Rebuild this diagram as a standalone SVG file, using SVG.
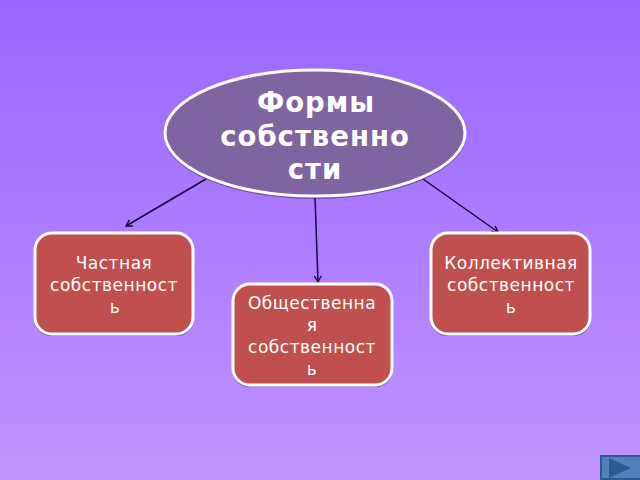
<svg xmlns="http://www.w3.org/2000/svg" width="640" height="480" viewBox="0 0 640 480">
<style>
.box{fill:#c0504d;stroke:#fff;stroke-width:3}
.shadow{fill:#4a3a70;opacity:.6}
.t{fill:#fff;font-family:"DejaVu Sans",sans-serif;font-size:17px;letter-spacing:.5px;text-anchor:middle}
.b{fill:#fff;font-family:"DejaVu Sans",sans-serif;font-size:27.5px;font-weight:bold;letter-spacing:1px;text-anchor:middle}
.c{stroke:#14063c;stroke-width:1.5;fill:none;marker-end:url(#a)}
</style>
<defs>
<linearGradient id="bg" x1="0" y1="0" x2="0" y2="1"><stop offset="0" stop-color="#9966ff"/><stop offset="1" stop-color="#c194ff"/></linearGradient>
<marker id="a" markerUnits="userSpaceOnUse" markerWidth="10" markerHeight="10" refX="7" refY="5" orient="auto"><path d="M1 1.5L7 5L1 8.5" fill="none" stroke="#14063c" stroke-width="1.3"/></marker>
</defs>
<rect width="640" height="480" fill="url(#bg)"/>
<g id="connectors">
<line class="c" x1="206" y1="179" x2="126" y2="226"/>
<line class="c" x1="315" y1="197" x2="318" y2="282"/>
<line class="c" x1="423" y1="179" x2="498" y2="232"/>
</g>
<g id="node-root">
<ellipse class="shadow" cx="315" cy="135" rx="151" ry="64"/>
<ellipse cx="315" cy="133" rx="150" ry="63" fill="#8064a2" stroke="#fff" stroke-width="3"/>
<text class="b" x="316" y="112">Формы</text>
<text class="b" x="315" y="146">собственно</text>
<text class="b" x="315" y="179">сти</text>
</g>
<g id="node-private">
<rect class="shadow" x="34" y="235" width="160" height="101" rx="17"/>
<rect class="box" x="35" y="233" width="158" height="101" rx="17"/>
<text class="t" x="114" y="269">Частная</text>
<text class="t" x="114" y="291">собственност</text>
<text class="t" x="115" y="313">ь</text>
</g>
<g id="node-public">
<rect class="shadow" x="232" y="286" width="161" height="101" rx="17"/>
<rect class="box" x="233" y="284" width="159" height="101" rx="17"/>
<text class="t" x="312" y="309">Общественна</text>
<text class="t" x="312" y="331">я</text>
<text class="t" x="312" y="353">собственност</text>
<text class="t" x="312" y="375">ь</text>
</g>
<g id="node-collective">
<rect class="shadow" x="430" y="235" width="161" height="101" rx="17"/>
<rect class="box" x="431" y="233" width="159" height="101" rx="17"/>
<text class="t" x="511" y="269">Коллективная</text>
<text class="t" x="511" y="291">собственност</text>
<text class="t" x="511" y="313">ь</text>
</g>
<g id="nav-button">
<rect x="600" y="455" width="40" height="25" fill="#4f81bd"/>
<path d="M600 455H640V457H602V478H640V480H600Z" fill="#2c5a8e"/>
<path d="M609 458L631 468L609 478Z" fill="#2c5a8e"/>
</g>
</svg>
